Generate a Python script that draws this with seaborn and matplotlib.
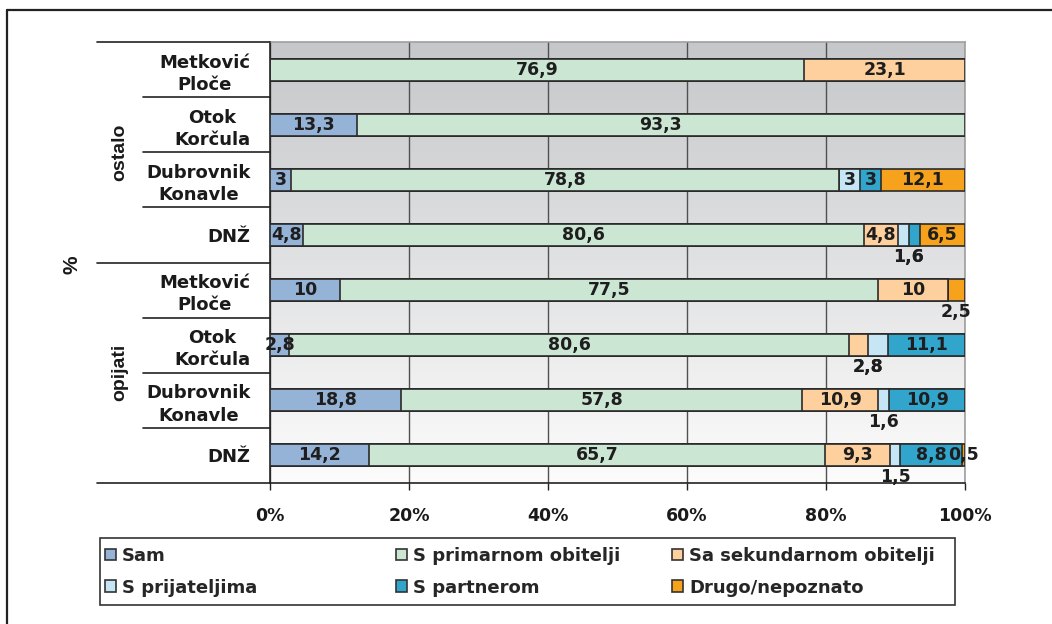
import numpy as np
import pandas as pd
import matplotlib
matplotlib.use("Agg")
import matplotlib.pyplot as plt
from matplotlib.patches import Patch, Rectangle
from matplotlib.lines import Line2D
import matplotlib.transforms as mtransforms
import seaborn as sns

# ---- data -------------------------------------------------------------
groups = ["ostalo", "opijati"]
places = ["Metković\nPloče", "Otok\nKorčula", "Dubrovnik\nKonavle", "DNŽ"]
series = ["Sam", "S primarnom obitelji", "Sa sekundarnom obitelji",
          "S prijateljima", "S partnerom", "Drugo/nepoznato"]

# one value per row: ostalo (4 places), then opijati (4 places)
sam        = [0.0, 13.3, 3.0, 4.8, 10.0, 2.8, 18.8, 14.2]
primarna   = [76.9, 93.3, 78.8, 80.6, 77.5, 80.6, 57.8, 65.7]
sekundarna = [23.1, 0.0, 0.0, 4.8, 10.0, 2.8, 10.9, 9.3]
prijatelji = [0.0, 0.0, 3.0, 1.6, 0.0, 2.8, 1.6, 1.5]
partner    = [0.0, 0.0, 3.0, 1.6, 0.0, 11.1, 10.9, 8.8]
drugo      = [0.0, 0.0, 12.1, 6.5, 2.5, 0.0, 0.0, 0.5]

x_ticks = [0, 20, 40, 60, 80, 100]
x_tick_labels = ["0%", "20%", "40%", "60%", "80%", "100%"]

colors = ["#95b3d7", "#cce6d4", "#fdd09d", "#c6e6f6", "#31a5cb", "#f7a21c"]

# labels of narrow segments are written under the bar, centred on the
# joint span of the listed segments
below = {3: [3, 4], 4: [5], 5: [2, 3], 6: [3], 7: [3]}

# ---- frame ------------------------------------------------------------
values = np.array([sam, primarna, sekundarna, prijatelji, partner, drugo])  # series x rows
row_keys = [f"{g}|{p}" for g in groups for p in places]
row_labels = [p for g in groups for p in places]
pct = values / values.sum(axis=0, keepdims=True) * 100.0
cum = np.cumsum(pct, axis=0)
df = pd.DataFrame({"row": row_keys})
for i, s in enumerate(series):
    df[s] = cum[i]

# ---- figure -----------------------------------------------------------
sns.set_theme(style="white")
plt.rcParams["font.family"] = ["DejaVu Sans"]
plt.rcParams["font.weight"] = "bold"

W, H = 1052, 624
fig = plt.figure(figsize=(W / 100, H / 100), dpi=100)
fig.patch.set_facecolor("white")

rect = [270 / W, 1 - 483 / H, 695 / W, 441 / H]

# gradient plot-area background
bg = fig.add_axes(rect, zorder=0)
grad = np.linspace(0, 1, 256)[:, None]
top_c = np.array([198, 199, 202]) / 255
bot_c = np.array([252, 252, 252]) / 255
img = top_c[None, None, :] * (1 - grad[:, :, None]) + bot_c[None, None, :] * grad[:, :, None]
bg.imshow(img, aspect="auto", extent=[0, 1, 0, 1])
bg.set_axis_off()

ax = fig.add_axes(rect, zorder=1)
ax.set_facecolor("none")

# stacked 100% bars: draw cumulative totals from the widest down
for i in range(len(series) - 1, -1, -1):
    sns.barplot(data=df, x=series[i], y="row", order=row_keys, orient="h",
                color=colors[i], edgecolor="#2b2b2b", linewidth=1.2,
                width=0.4, errorbar=None, saturation=1, ax=ax, zorder=3)

ax.set_xlim(0, 100)
ax.set_ylim(7.5, -0.5)
ax.set_xlabel("")
ax.set_ylabel("")

# grid / spines
ax.set_xticks(x_ticks)
ax.set_xticklabels(x_tick_labels, fontsize=12.5, fontweight="bold", color="#1a1a1a")
ax.grid(axis="x", color="#505050", linewidth=1.0, zorder=1)
ax.grid(axis="y", visible=False)
ax.set_axisbelow(True)
ax.tick_params(axis="x", bottom=True, length=5, width=1, color="#222", pad=12, direction="out")
ax.set_yticks(range(len(row_keys)))
ax.set_yticklabels(row_labels, fontsize=13, fontweight="bold", color="#1a1a1a",
                   multialignment="center", linespacing=1.3)
ax.tick_params(axis="y", left=False, length=0, pad=14)
for side in ["top", "right"]:
    ax.spines[side].set_color("#a0a0a0")
    ax.spines[side].set_linewidth(1.2)
for side in ["left", "bottom"]:
    ax.spines[side].set_color("#222222")
    ax.spines[side].set_linewidth(1.2)

# row separators in the category area
trans = mtransforms.blended_transform_factory(ax.transAxes, ax.transData)
x_long = (97 - 270) / 695
x_short = (143 - 270) / 695
for b in np.arange(-0.5, 8, 1.0):
    x0 = x_long if b in (-0.5, 3.5, 7.5) else x_short
    ax.plot([x0, 0], [b, b], transform=trans, color="#222222", lw=1.2,
            clip_on=False, zorder=5)

# group titles
for gi, g in enumerate(groups):
    ax.text((120 - 270) / 695, gi * 4 + 1.5, g, transform=trans, rotation=90,
            ha="center", va="center", fontsize=14, fontweight="bold",
            color="#1a1a1a", family="Liberation Sans")
fig.text(72 / W, 1 - 265 / H, "%", rotation=90, ha="center", va="center",
         fontsize=15, fontweight="bold", color="#1a1a1a", family="Liberation Sans")

# value labels
def fmt(v):
    return f"{v:g}".replace(".", ",")

lefts = cum - pct
for r in range(len(row_keys)):
    under = below.get(r, [])
    for s in range(len(series)):
        v = values[s, r]
        if v <= 0:
            continue
        if s in under:
            x = (lefts[under[0], r] + cum[under[-1], r]) / 2
            y = r + 0.40
        else:
            x = (lefts[s, r] + cum[s, r]) / 2
            y = r
        ax.text(x, y, fmt(v), ha="center", va="center", fontsize=12.5,
                fontweight="bold", color="#1e1e1e", zorder=6, clip_on=False)

# legend box with three columns
fig.patches.append(Rectangle((100 / W, 1 - 605 / H), 855 / W, 67 / H,
                             transform=fig.transFigure, facecolor="white",
                             edgecolor="#333333", linewidth=1.2, zorder=0))
col_x = [105, 396, 672]
for c in range(3):
    idx = [c, c + 3]
    handles = [Patch(facecolor=colors[i], edgecolor="#333333", linewidth=1.2) for i in idx]
    fig.legend(handles, [series[i] for i in idx], loc="upper left",
               bbox_to_anchor=(col_x[c] / W, 1 - 547 / H), frameon=False,
               handlelength=0.6, handleheight=0.6,
               handletextpad=0.35, labelspacing=0.75, borderpad=0,
               borderaxespad=0, prop={"weight": "bold", "size": 13})

# outer frame (top and left edges)
fig.lines.append(Line2D([7 / W, 1.0], [1 - 10 / H, 1 - 10 / H], transform=fig.transFigure,
                        color="#222222", lw=1.6))
fig.lines.append(Line2D([7 / W, 7 / W], [0.0, 1 - 10 / H], transform=fig.transFigure,
                        color="#222222", lw=1.6))

fig.savefig("out.png", dpi=100)
